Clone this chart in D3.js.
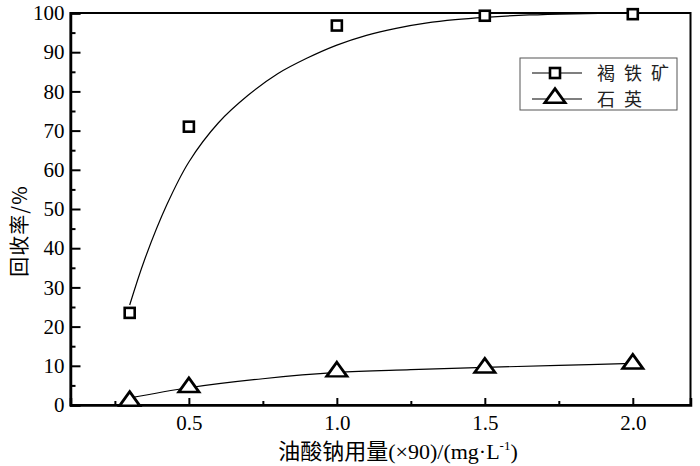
<!DOCTYPE html>
<html><head><meta charset="utf-8">
<script src="https://cdn.jsdelivr.net/npm/d3@7"></script>
<style>body{margin:0;background:#fff}svg{display:block}</style>
</head><body>
<svg id="c" width="700" height="466"></svg>
<script>
// data
const doses = [0.3, 0.5, 1.0, 1.5, 2.0];
const goethite = [23.5, 71, 96.8, 99.3, 99.7];
const quartz = [1.0, 4.5, 8.5, 9.5, 10.5];
const goethiteFitX = [0.3, 0.35, 0.425, 0.5, 0.6, 0.7, 0.8, 0.9, 1.0, 1.1, 1.2, 1.3, 1.4, 1.5, 1.65, 1.8, 2.0];
const goethiteFitY = [25.5, 37, 51, 62, 72, 79, 84.5, 88.5, 91.8, 94.3, 96.1, 97.4, 98.3, 98.9, 99.5, 99.8, 100];
const quartzFitX = [0.3, 0.5, 0.75, 1.0, 1.25, 1.5, 1.75, 2.0];
const quartzFitY = [1.8, 4.4, 6.7, 8.3, 9.0, 9.6, 10.1, 10.6];
const xMajor = [0.5, 1.0, 1.5, 2.0];
const xMinor = [0.25, 0.75, 1.25, 1.75];
const yMajor = [0, 10, 20, 30, 40, 50, 60, 70, 80, 90, 100];
const yMinor = [5, 15, 25, 35, 45, 55, 65, 75, 85, 95];
const legendNames = ["褐铁矿", "石英"];

const svg = d3.select("#c");
const L = 70.5, R = 690.5, T = 13, B = 405;
const x = d3.scaleLinear().domain([0.1, 2.195]).range([L, R]);
const y = d3.scaleLinear().domain([0, 100]).range([B, T]);
const serif = "'Liberation Serif', 'DejaVu Serif', serif";
const cjk = "'Noto Sans CJK SC', 'Noto Sans CJK JP', sans-serif";

// frame
svg.append("rect").attr("x", L).attr("y", T).attr("width", R - L).attr("height", B - T)
  .attr("fill", "none").attr("stroke", "#000").attr("stroke-width", 2);

// y axis
const yAx = svg.append("g").attr("transform", `translate(${L},0)`)
  .call(d3.axisLeft(y).tickValues(yMajor).tickSize(-10).tickPadding(8).tickFormat(d3.format("d")));
yAx.attr("font-family", null);
yAx.select(".domain").attr("stroke-width", 2.5);
yAx.selectAll(".tick line").attr("stroke-width", 2);
yAx.selectAll("text").style("font-family", serif).style("font-size", "21px").attr("fill", "#000").attr("x", -6);
const yAxm = svg.append("g").attr("transform", `translate(${L},0)`)
  .call(d3.axisLeft(y).tickValues(yMinor).tickSize(-5).tickFormat(""));
yAxm.select(".domain").remove();
yAxm.selectAll(".tick line").attr("stroke-width", 2);

// x axis
const xAx = svg.append("g").attr("transform", `translate(0,${B})`)
  .call(d3.axisBottom(x).tickValues(xMajor).tickSize(-7).tickPadding(12).tickFormat(d3.format(".1f")));
xAx.attr("font-family", null);
xAx.select(".domain").attr("stroke-width", 2.5);
xAx.selectAll(".tick line").attr("stroke-width", 2);
xAx.selectAll("text").style("font-family", serif).style("font-size", "21px").attr("fill", "#000").attr("y", 10);
const xAxm = svg.append("g").attr("transform", `translate(0,${B})`)
  .call(d3.axisBottom(x).tickValues(xMinor).tickSize(-4).tickFormat(""));
xAxm.select(".domain").remove();
xAxm.selectAll(".tick line").attr("stroke-width", 2);

// curves
const line = d3.line().x(d => x(d[0])).y(d => y(d[1])).curve(d3.curveCatmullRom.alpha(0.5));
svg.append("path").datum(goethiteFitX.map((v, i) => [v, goethiteFitY[i]]))
  .attr("d", line).attr("fill", "none").attr("stroke", "#000").attr("stroke-width", 1.2);
svg.append("path").datum(quartzFitX.map((v, i) => [v, quartzFitY[i]]))
  .attr("d", line).attr("fill", "none").attr("stroke", "#000").attr("stroke-width", 1.2);

// markers
const sq = 10, tri = d3.symbol().type(d3.symbolTriangle).size(115);
function square(g, cx, cy) {
  g.append("rect").attr("x", cx - sq / 2).attr("y", cy - sq / 2).attr("width", sq).attr("height", sq)
    .attr("fill", "#fff").attr("stroke", "#000").attr("stroke-width", 2.6);
}
function triangle(g, cx, cy) {
  g.append("path").attr("d", tri).attr("transform", `translate(${cx},${cy}) scale(1.25,1)`)
    .attr("fill", "#fff").attr("stroke", "#000").attr("stroke-width", 2.4);
}
const mk = svg.append("g");
doses.forEach((d, i) => square(mk, x(d), y(goethite[i])));
doses.forEach((d, i) => triangle(mk, x(d), y(quartz[i])));

// legend
const lg = svg.append("g");
lg.append("rect").attr("x", 520).attr("y", 58).attr("width", 157).attr("height", 52)
  .attr("fill", "#fff").attr("stroke", "#555").attr("stroke-width", 1);
[73, 99].forEach((ly, i) => {
  lg.append("line").attr("x1", 532).attr("x2", 582).attr("y1", ly).attr("y2", ly)
    .attr("stroke", "#000").attr("stroke-width", 1.2);
  if (i === 0) square(lg, 555, ly); else triangle(lg, 555, ly - 1);
  lg.append("text").attr("x", 597).attr("y", ly + 7).text(legendNames[i])
    .style("font-family", cjk).style("font-size", "18px").style("letter-spacing", "9px").attr("fill", "#222");
});

// axis titles
svg.append("text").attr("transform", `translate(27,231) rotate(-90)`).attr("text-anchor", "middle")
  .style("font-family", cjk).style("font-size", "20px").style("letter-spacing", "1px").attr("fill", "#000").text("回收率/%");
const xt = svg.append("text").attr("x", 398).attr("y", 459).attr("text-anchor", "middle")
  .style("font-family", cjk).style("font-size", "22px").attr("fill", "#000");
xt.append("tspan").text("油酸钠用量");
xt.append("tspan").style("font-family", serif).text("(×90)/(mg·L");
xt.append("tspan").style("font-family", serif).style("font-size", "13px").attr("dy", -9).text("-1");
xt.append("tspan").style("font-family", serif).attr("dy", 9).text(")");
</script>
</body></html>
